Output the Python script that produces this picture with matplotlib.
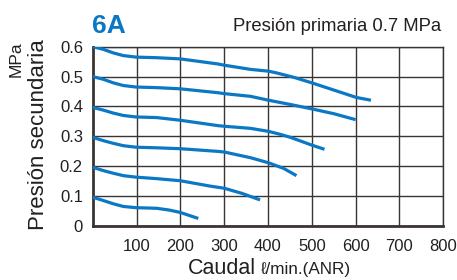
import numpy as np
import matplotlib
matplotlib.use('Agg')
import matplotlib.pyplot as plt

plt.rcParams['font.family'] = ['Liberation Sans', 'DejaVu Sans']

BLUE = '#0a78c4'
GRID = '#3a3434'
TXT = '#231f20'

# flow (l/min ANR) vs secondary pressure (MPa), one curve per set pressure
FLOW_06 = [0, 24, 47, 70, 99, 146, 200, 286, 300, 360, 401, 420, 460, 500, 550, 602, 635]
PRES_06 = [0.600, 0.591, 0.579, 0.570, 0.565, 0.563, 0.559, 0.542, 0.538, 0.524, 0.518, 0.512,
           0.497, 0.479, 0.455, 0.430, 0.421]

FLOW_05 = [0, 24, 47, 70, 99, 146, 200, 286, 300, 360, 401, 450, 500, 550, 600]
PRES_05 = [0.500, 0.491, 0.479, 0.470, 0.465, 0.463, 0.459, 0.446, 0.443, 0.434, 0.421, 0.407,
           0.392, 0.376, 0.356]

FLOW_04 = [0, 24, 47, 70, 99, 146, 200, 286, 300, 360, 401, 428, 451, 500, 529]
PRES_04 = [0.397, 0.388, 0.378, 0.370, 0.365, 0.363, 0.354, 0.336, 0.334, 0.327, 0.317, 0.307,
           0.297, 0.271, 0.257]

FLOW_03 = [0, 24, 47, 70, 99, 146, 200, 286, 300, 360, 401, 436, 465]
PRES_03 = [0.297, 0.286, 0.277, 0.269, 0.264, 0.262, 0.259, 0.250, 0.248, 0.229, 0.212, 0.193,
           0.169]

FLOW_02 = [0, 24, 47, 70, 99, 146, 200, 268, 300, 340, 382]
PRES_02 = [0.197, 0.186, 0.177, 0.169, 0.164, 0.159, 0.152, 0.134, 0.127, 0.110, 0.088]

FLOW_01 = [0, 24, 47, 70, 99, 146, 175, 200, 241]
PRES_01 = [0.097, 0.086, 0.075, 0.066, 0.062, 0.060, 0.054, 0.046, 0.026]

CURVES = [(FLOW_06, PRES_06), (FLOW_05, PRES_05), (FLOW_04, PRES_04),
          (FLOW_03, PRES_03), (FLOW_02, PRES_02), (FLOW_01, PRES_01)]

X_TICKS = [100, 200, 300, 400, 500, 600, 700, 800]
Y_TICKS = [0, 0.1, 0.2, 0.3, 0.4, 0.5, 0.6]
Y_LABELS = ['0', '0.1', '0.2', '0.3', '0.4', '0.5', '0.6']

fig = plt.figure(figsize=(4.57, 2.8), dpi=100)
ax = fig.add_axes([0.2028, 0.192, 0.7672, 0.6415])

for fl, pr in CURVES:
    ax.plot(fl, pr, color=BLUE, lw=2.3, solid_capstyle='butt',
            solid_joinstyle='round', zorder=3)

ax.set_xlim(0, 800)
ax.set_ylim(0, 0.6)
ax.set_xticks(X_TICKS)
ax.set_yticks(Y_TICKS)
ax.set_yticklabels(Y_LABELS)
ax.tick_params(length=0, labelsize=12, colors=TXT, pad=7)
ax.tick_params(axis='x', pad=9)
ax.grid(True, color=GRID, lw=1.0)
ax.set_axisbelow(True)
for s in ['top', 'right']:
    ax.spines[s].set_color(GRID)
    ax.spines[s].set_linewidth(1.0)
for s in ['left', 'bottom']:
    ax.spines[s].set_color(GRID)
    ax.spines[s].set_linewidth(2.0)

fig.text(0.084, 0.52, 'Presión secundaria', rotation=90, ha='center', va='center',
         fontsize=16, color=TXT)
fig.text(0.035, 0.79, 'MPa', rotation=90, ha='center', va='center',
         fontsize=12.5, color=TXT)
fig.text(0.201, 0.882, '6A', ha='left', va='baseline', fontsize=19,
         fontweight='bold', color=BLUE)
fig.text(0.966, 0.889, 'Presión primaria 0.7 MPa', ha='right', va='baseline',
         fontsize=13.3, color=TXT)
fig.text(0.411, 0.02, 'Caudal', ha='left', va='baseline', fontsize=15.5, color=TXT)
fig.text(0.571, 0.02, 'ℓ/min.(ANR)', ha='left', va='baseline', fontsize=12.3, color=TXT)

fig.savefig('out.png', dpi=100)
